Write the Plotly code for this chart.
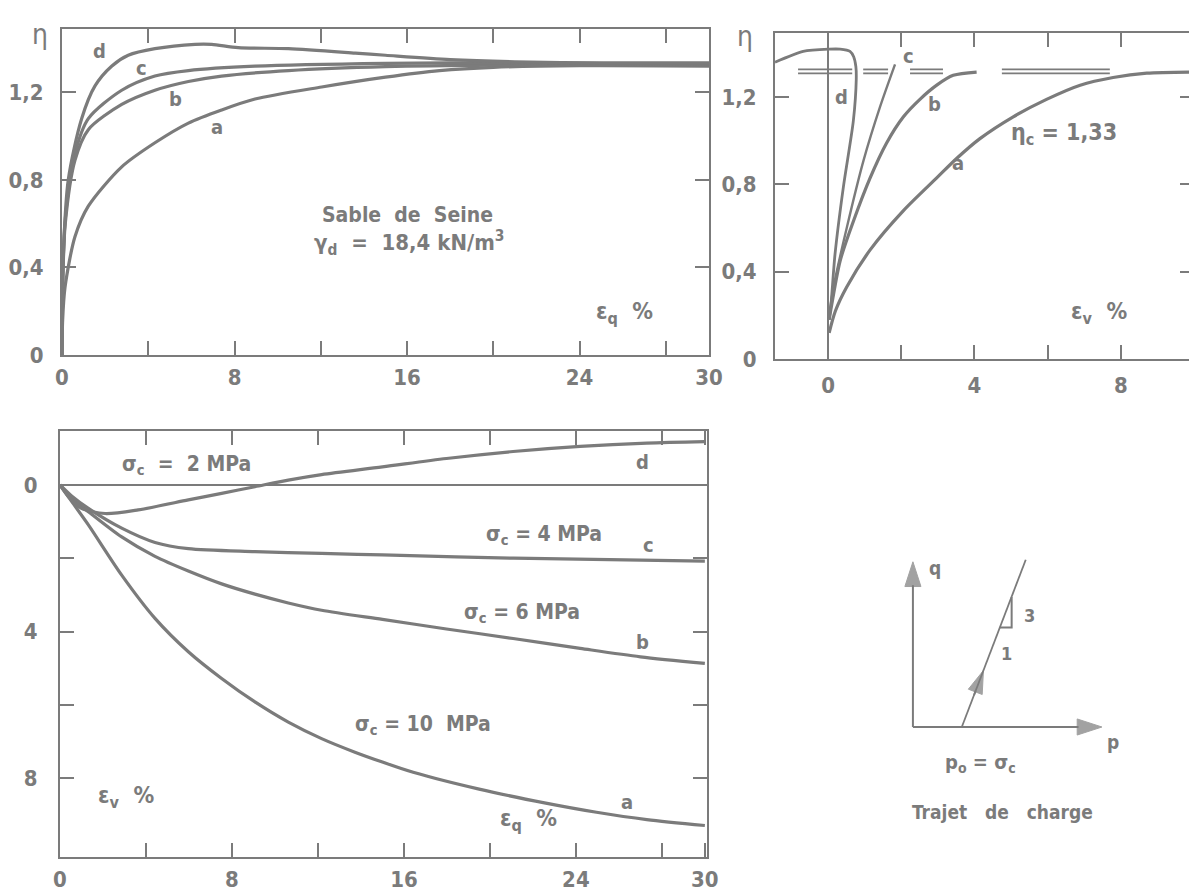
import plotly.graph_objects as go

# ---------------- data ----------------
# Top-left: eta vs eps_q (%)
eq_a = [0, 0.03, 0.14, 0.6, 1.22, 2.77, 4.31, 5.86, 7.4, 8.95, 12.04, 15.0, 17.5, 20, 24, 30]
eta_a = [0, 0.16, 0.31, 0.54, 0.68, 0.86, 0.97, 1.06, 1.12, 1.17, 1.225, 1.27, 1.30, 1.315, 1.322, 1.32]
eq_b = [0, 0.04, 0.15, 0.6, 1.22, 2.77, 4.31, 5.86, 7.4, 10.5, 15, 20, 30]
eta_b = [0, 0.35, 0.6, 0.89, 1.03, 1.145, 1.21, 1.25, 1.275, 1.30, 1.318, 1.325, 1.325]
eq_c = [0, 0.04, 0.15, 0.6, 1.22, 2.77, 4.31, 5.86, 8.95, 15, 20, 30]
eta_c = [0, 0.36, 0.62, 0.92, 1.08, 1.21, 1.275, 1.30, 1.32, 1.333, 1.335, 1.33]
eq_d = [0, 0.04, 0.29, 0.91, 1.53, 2.3, 3.07, 4.31, 6.17, 6.94, 8.17, 10.5, 13.6, 15, 18, 21, 25, 30]
eta_d = [0, 0.4, 0.80, 1.08, 1.23, 1.32, 1.37, 1.40, 1.42, 1.42, 1.405, 1.40, 1.38, 1.37, 1.35, 1.34, 1.335, 1.335]

# Top-right: eta vs eps_v (%)
ev_a = [0.03, 0.2, 0.51, 1.15, 2.06, 2.97, 3.52, 4.15, 5.06, 5.97, 6.89, 7.79, 8.71, 9.9]
etv_a = [0.12, 0.22, 0.33, 0.50, 0.68, 0.83, 0.92, 1.01, 1.11, 1.19, 1.255, 1.29, 1.31, 1.315]
ev_b = [0.03, 0.07, 0.33, 0.69, 1.15, 1.6, 2.06, 2.51, 2.97, 3.42, 4.06]
etv_b = [0.18, 0.22, 0.45, 0.63, 0.83, 0.99, 1.11, 1.19, 1.255, 1.30, 1.315]
ev_c = [0.03, 0.15, 0.51, 0.97, 1.42, 1.83]
etv_c = [0.2, 0.33, 0.60, 0.91, 1.155, 1.35]
ev_d = [0.03, 0.08, 0.19, 0.42, 0.69, 0.77, 0.76, 0.70, 0.6, 0.33, 0.03, -0.68, -1.45]
etv_d = [0.18, 0.25, 0.48, 0.79, 1.09, 1.28, 1.34, 1.385, 1.41, 1.42, 1.42, 1.41, 1.36]

# critical state double line eta_c = 1.33 (broken segments)
etac_levels = [1.327, 1.309]
etac_segments = [[-0.82, 0.66], [0.96, 1.64], [2.24, 3.14], [4.75, 7.70]]

# Bottom: eps_v vs eps_q (%)
bq_a = [0, 0.54, 1.32, 2.87, 4.42, 5.97, 7.52, 9.07, 10.62, 12.17, 13.72, 15.0, 16.43, 19.5, 22.6, 24.96, 27.3, 30]
bv_a = [0, 0.45, 1.09, 2.46, 3.64, 4.55, 5.28, 5.92, 6.47, 6.92, 7.29, 7.56, 7.84, 8.30, 8.68, 8.93, 9.13, 9.29]
bq_b = [0, 0.54, 1.32, 2.87, 4.42, 5.97, 7.52, 9.07, 10.62, 12.17, 15.0, 17.98, 21.08, 24.2, 27.0, 30]
bv_b = [0, 0.36, 0.73, 1.42, 1.95, 2.35, 2.70, 2.98, 3.22, 3.42, 3.67, 3.93, 4.19, 4.46, 4.69, 4.87]
bq_c = [0, 0.54, 1.32, 2.87, 4.42, 5.97, 9.07, 12.17, 15.0, 21.1, 30]
bv_c = [0, 0.30, 0.64, 1.18, 1.57, 1.74, 1.82, 1.87, 1.91, 2.0, 2.08]
bq_d = [0, 0.39, 1.0, 2.1, 3.64, 5.97, 7.52, 9.07, 10.62, 12.17, 15.0, 17.98, 21.08, 24.2, 27.3, 30]
bv_d = [0, 0.32, 0.64, 0.78, 0.68, 0.41, 0.23, 0.05, -0.13, -0.28, -0.49, -0.72, -0.91, -1.05, -1.14, -1.18]

# ticks and tick labels
eq_tickvals = [0, 8, 16, 24, 30]
eq_ticktext = ["0", "8", "16", "24", "30"]
eq_minor = [4, 12, 20, 28]
eta_tickvals = [0, 0.4, 0.8, 1.2]
eta_ticktext = ["0", "0,4", "0,8", "1,2"]
ev_tickvals = [0, 4, 8]
ev_ticktext = ["0", "4", "8"]
ev_minor = [2, 6]

# load path schematic (p, q units)
q_axis_end = 4.13
p_axis_end = 4.02
p0 = 1.04
path_p = [p0, 2.40]
path_q = [0, 4.18]
path_arrow_p = [1.30, 1.50]
tri_p = [1.85, 2.10, 2.10]
tri_q = [2.49, 2.49, 3.25]

# ---------------- style ----------------
GRAY = "#7b7b7b"
FONT = "DejaVu Sans Condensed"
OFF = 8  # page body margin of the html page
W, H = 1197 - OFF, 895 - OFF


def dom_x(a, b):
    return [(a - OFF) / W, (b - OFF) / W]


def dom_y(top, bottom):
    return [1 - (bottom - OFF) / H, 1 - (top - OFF) / H]


fig = go.Figure()


def curve(x, y, xa, ya, width=3.2, smoothing=0.8):
    fig.add_trace(go.Scatter(x=x, y=y, mode="lines", xaxis=xa, yaxis=ya,
                             line=dict(color=GRAY, width=width, shape="spline", smoothing=smoothing),
                             showlegend=False, hoverinfo="skip"))


curve(eq_a, eta_a, "x", "y")
curve(eq_b, eta_b, "x", "y")
curve(eq_c, eta_c, "x", "y")
curve(eq_d, eta_d, "x", "y")

for lev in etac_levels:
    for seg in etac_segments:
        fig.add_trace(go.Scatter(x=seg, y=[lev, lev], mode="lines", xaxis="x2", yaxis="y2",
                                 line=dict(color=GRAY, width=1.8), showlegend=False, hoverinfo="skip"))
curve(ev_a, etv_a, "x2", "y2")
curve(ev_b, etv_b, "x2", "y2")
curve(ev_c, etv_c, "x2", "y2", width=2.4)
curve(ev_d, etv_d, "x2", "y2", width=2.8, smoothing=0.7)

curve(bq_a, bv_a, "x3", "y3")
curve(bq_b, bv_b, "x3", "y3")
curve(bq_c, bv_c, "x3", "y3")
curve(bq_d, bv_d, "x3", "y3")


# schematic: lines with arrowheads at their ends
def arrow_line(x, y, width=2, head=26):
    fig.add_trace(go.Scatter(x=x, y=y, mode="lines+markers", xaxis="x4", yaxis="y4",
                             line=dict(color=GRAY, width=width),
                             marker=dict(symbol="arrow", size=[0] * (len(x) - 1) + [head],
                                         color=GRAY, angleref="previous",
                                         line=dict(width=1, color=GRAY)),
                             showlegend=False, hoverinfo="skip"))


arrow_line([0, 0], [0, q_axis_end])
arrow_line([0, p_axis_end], [0, 0])
fig.add_trace(go.Scatter(x=path_p, y=path_q, mode="lines", xaxis="x4", yaxis="y4",
                         line=dict(color=GRAY, width=1.8), showlegend=False, hoverinfo="skip"))
arrow_line(path_arrow_p, [3.07 * (v - p0) for v in path_arrow_p], width=1.8, head=24)
fig.add_trace(go.Scatter(x=tri_p, y=tri_q, mode="lines", xaxis="x4", yaxis="y4",
                         line=dict(color=GRAY, width=2), showlegend=False, hoverinfo="skip"))

tickfont = dict(family=FONT, size=22, color=GRAY, weight="bold")


def axis_common(standoff, minor_vals=None):
    d = dict(showline=True, linecolor=GRAY, linewidth=2, mirror="ticks",
             ticks="inside", ticklen=14, tickwidth=2, tickcolor=GRAY,
             showgrid=False, zeroline=False, tickfont=tickfont,
             ticklabelstandoff=standoff, automargin=False)
    if minor_vals is not None:
        d["minor"] = dict(tickmode="array", tickvals=minor_vals, ticks="inside", ticklen=14,
                          tickwidth=2, tickcolor=GRAY, showgrid=False)
    return d


layout = dict(
    width=W, height=H, margin=dict(l=0, r=0, t=0, b=0, autoexpand=False),
    paper_bgcolor="white", plot_bgcolor="white", showlegend=False,
    font=dict(family=FONT, color=GRAY),
    xaxis=dict(axis_common(2, eq_minor), domain=dom_x(62, 709), range=[0, 30], anchor="y",
               tickmode="array", tickvals=eq_tickvals, ticktext=eq_ticktext),
    yaxis=dict(axis_common(12), domain=dom_y(29, 355), range=[0, 1.49], anchor="x",
               tickmode="array", tickvals=eta_tickvals, ticktext=eta_ticktext),
    xaxis2=dict(axis_common(6, ev_minor), domain=dom_x(775, 1194), range=[-1.45, 10.0], anchor="y2",
                tickmode="array", tickvals=ev_tickvals, ticktext=ev_ticktext,
                zeroline=True, zerolinecolor=GRAY, zerolinewidth=1.8),
    yaxis2=dict(axis_common(12), domain=dom_y(33, 359), range=[0, 1.494], anchor="x2",
                tickmode="array", tickvals=eta_tickvals, ticktext=eta_ticktext),
    xaxis3=dict(axis_common(2, eq_minor), domain=dom_x(60, 707), range=[0, 30.1], anchor="y3",
                tickmode="array", tickvals=eq_tickvals, ticktext=eq_ticktext),
    yaxis3=dict(axis_common(16, ev_minor), domain=dom_y(431, 857), range=[10.15, -1.47], anchor="x3",
                tickmode="array", tickvals=ev_tickvals, ticktext=ev_ticktext,
                zeroline=True, zerolinecolor=GRAY, zerolinewidth=2),
    xaxis4=dict(domain=dom_x(880, 1140), range=[-0.70, 4.83], anchor="y4", visible=False),
    yaxis4=dict(domain=dom_y(540, 830), range=[-2.575, 4.675], anchor="x4", visible=False),
)
fig.update_layout(**layout)

ann = []


def txt(x, y, s, xr, yr, size=20, xanchor="center"):
    ann.append(dict(x=x, y=y, xref=xr, yref=yr, text=s, showarrow=False,
                    font=dict(family=FONT, size=size, color=GRAY, weight="bold"),
                    xanchor=xanchor, yanchor="middle"))


# axis titles eta
ann.append(dict(x=(30 - OFF) / W, y=1 - (16 - OFF) / H, xref="paper", yref="paper", text="η",
                showarrow=False, font=dict(family=FONT, size=28, color=GRAY)))
ann.append(dict(x=(745 - OFF) / W, y=1 - (18 - OFF) / H, xref="paper", yref="paper", text="η",
                showarrow=False, font=dict(family=FONT, size=28, color=GRAY)))

# top-left
txt(1.76, 1.39, "d", "x", "y")
txt(3.7, 1.31, "c", "x", "y")
txt(5.24, 1.17, "b", "x", "y")
txt(7.19, 1.04, "a", "x", "y")
txt(16.0, 0.64, "Sable  de  Seine", "x", "y", size=21)
txt(16.1, 0.51, "γ<sub>d</sub>  =  18,4 kN/m<sup>3</sup>", "x", "y", size=22)
txt(26.1, 0.19, "ε<sub>q</sub>  %", "x", "y", size=23)

# top-right
txt(0.38, 1.20, "d", "x2", "y2")
txt(2.19, 1.39, "c", "x2", "y2")
txt(2.92, 1.17, "b", "x2", "y2")
txt(3.55, 0.90, "a", "x2", "y2")
txt(6.45, 1.03, "η<sub>c</sub> = 1,33", "x2", "y2", size=23)
txt(7.4, 0.21, "ε<sub>v</sub>  %", "x2", "y2", size=23)

# bottom
txt(5.9, -0.55, "σ<sub>c</sub>  =  2 MPa", "x3", "y3", size=21)
txt(27.1, -0.63, "d", "x3", "y3")
txt(22.5, 1.37, "σ<sub>c</sub> = 4 MPa", "x3", "y3", size=21)
txt(27.4, 1.64, "c", "x3", "y3")
txt(21.5, 3.5, "σ<sub>c</sub> = 6 MPa", "x3", "y3", size=21)
txt(27.1, 4.29, "b", "x3", "y3")
txt(16.9, 6.56, "σ<sub>c</sub> = 10  MPa", "x3", "y3", size=21)
txt(26.4, 8.66, "a", "x3", "y3")
txt(21.8, 9.15, "ε<sub>q</sub>  %", "x3", "y3", size=23)
txt(3.07, 8.52, "ε<sub>v</sub>  %", "x3", "y3", size=23)

# schematic labels
txt(0.47, 3.98, "q", "x4", "y4", size=19)
txt(4.26, -0.37, "p", "x4", "y4", size=19)
txt(2.49, 2.8, "3", "x4", "y4", size=18)
txt(2.0, 1.85, "1", "x4", "y4", size=18)
txt(1.43, -0.9, "p<sub>o</sub> = σ<sub>c</sub>", "x4", "y4", size=20)
txt(1.91, -2.12, "Trajet   de   charge", "x4", "y4", size=19)

fig.update_layout(annotations=ann)
fig.write_html("out.html")
